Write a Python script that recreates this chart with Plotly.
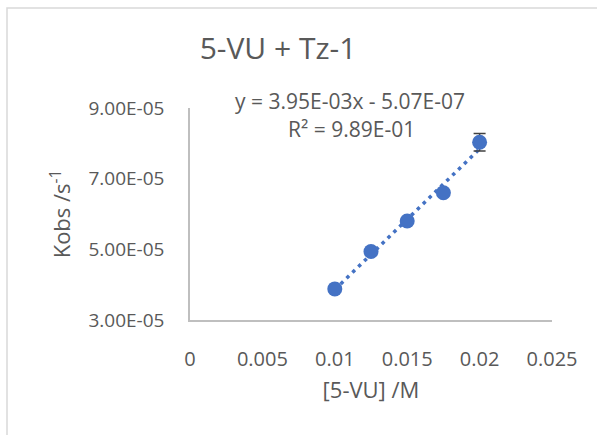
import numpy as np
import plotly.graph_objects as go

# ---- data ----
conc_M = [0.01, 0.0125, 0.015, 0.0175, 0.02]
kobs = [3.88e-5, 4.94e-5, 5.80e-5, 6.60e-5, 8.03e-5]
kobs_err = [0.0, 0.0, 0.0, 0.0, 2.5e-6]

x_tickvals = [0, 0.005, 0.01, 0.015, 0.02, 0.025]
x_ticktext = ["0", "0.005", "0.01", "0.015", "0.02", "0.025"]
y_tickvals = [3e-5, 5e-5, 7e-5, 9e-5]
y_ticktext = ["3.00E-05", "5.00E-05", "7.00E-05", "9.00E-05"]

title_text = "5-VU + Tz-1"
eq_text = "y = 3.95E-03x - 5.07E-07"
r2_text = "R² = 9.89E-01"

# ---- layout geometry (pixels) ----
W, H = 597, 435
L, R, T, B = 190, 45, 108, 115
pw, ph = W - L - R, H - T - B

def px_x(px):
    return (px - L) / pw

def px_y(py):
    return (H - B - py) / ph

BLUE = "#4472C4"
TXT = "#595959"
FONT = "Open Sans"

# linear trendline from the data
slope, intercept = np.polyfit(conc_M, kobs, 1)
xt = np.array([min(conc_M), max(conc_M)])
yt = slope * xt + intercept

fig = go.Figure()
fig.add_trace(go.Scatter(
    x=xt, y=yt, mode="lines",
    line=dict(color=BLUE, width=3.5, dash="3.5px,4.7px"),
    hoverinfo="skip", showlegend=False,
))
fig.add_trace(go.Scatter(
    x=conc_M, y=kobs, mode="markers",
    marker=dict(color=BLUE, size=15),
    error_y=dict(type="data", array=kobs_err, visible=True,
                 color="#404040", thickness=1.5, width=6),
    showlegend=False,
))

fig.update_layout(
    width=W, height=H,
    margin=dict(l=L, r=R, t=T, b=B),
    paper_bgcolor="white", plot_bgcolor="white",
    font=dict(family=FONT, color=TXT, size=19),
    title=dict(text=title_text, x=278 / W, xanchor="center",
               y=1 - 48 / H, yanchor="middle",
               font=dict(size=30, color=TXT, family=FONT)),
    xaxis=dict(range=[0, 0.025], tickvals=x_tickvals, ticktext=x_ticktext,
               showline=True, linecolor="#BFBFBF", linewidth=1.5,
               showgrid=False, zeroline=False, ticks="",
               ticklabelstandoff=20,
               tickfont=dict(size=20, color=TXT),
               title=dict(text="[5-VU] /M", standoff=12,
                          font=dict(size=22, color=TXT))),
    yaxis=dict(range=[3e-5, 9e-5], tickvals=y_tickvals, ticktext=y_ticktext,
               showline=True, linecolor="#BFBFBF", linewidth=1.5,
               showgrid=False, zeroline=False, ticks="",
               ticklabelstandoff=20,
               tickfont=dict(size=19, color=TXT),
               title=dict(text="Kobs /s<sup>-1</sup>", standoff=12,
                          font=dict(size=22, color=TXT))),
    annotations=[
        dict(text=eq_text, xref="paper", yref="paper",
             x=px_x(349.5), y=px_y(101), xanchor="center", yanchor="middle",
             showarrow=False, font=dict(size=21, color=TXT)),
        dict(text=r2_text, xref="paper", yref="paper",
             x=px_x(351), y=px_y(129), xanchor="center", yanchor="middle",
             showarrow=False, font=dict(size=21, color=TXT)),
    ],
    shapes=[
        dict(type="rect", xref="paper", yref="paper",
             x0=px_x(7), x1=px_x(620), y0=px_y(460), y1=px_y(8),
             line=dict(color="#D9D9D9", width=1.5), layer="below"),
    ],
)

fig.write_html("out.html")
